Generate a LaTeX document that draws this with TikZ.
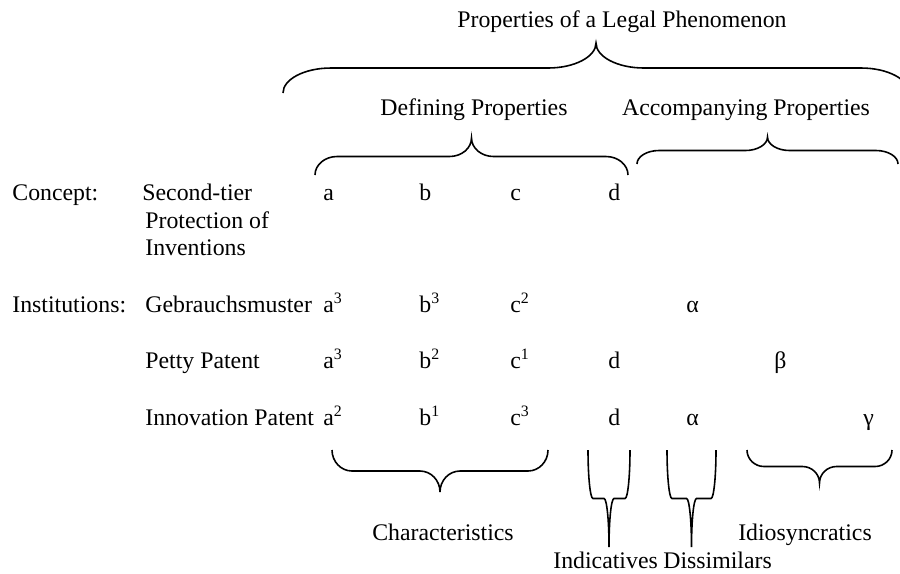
\documentclass[tikz,border=0pt]{standalone}
\usepackage{fontspec}
\setmainfont{Liberation Serif}
\usepackage{tikz}

\tikzset{
	lbl/.style={inner sep=0pt, anchor=base west, font=\fontsize{12}{13.9}\selectfont},
	brc/.style={line width=0.8pt},
}

%% brace: left x, right x, y of the ends, y of the tip, width of the bends
\newcommand{\legalbrace}[5]{%
	\pgfmathsetmacro{\bxm}{(#1+#2)/2}
	\pgfmathsetmacro{\bym}{(#3+#4)/2}
	\draw[brc] (#1,#3) .. controls (#1,{#3+0.552*(\bym-#3)}) and ({#1+0.448*#5},\bym) .. ({#1+#5},\bym)
		-- ({\bxm-#5},\bym) .. controls ({\bxm-0.448*#5},\bym) and (\bxm,{#4+0.552*(\bym-#4)}) .. (\bxm,#4)
		.. controls (\bxm,{#4+0.552*(\bym-#4)}) and ({\bxm+0.448*#5},\bym) .. ({\bxm+#5},\bym)
		-- ({#2-#5},\bym) .. controls ({#2-0.448*#5},\bym) and (#2,{#3+0.552*(\bym-#3)}) .. (#2,#3);%
}

\begin{document}
\begin{tikzpicture}[x=0.5042pt,y=-0.5042pt]

	\useasboundingbox (0,0) rectangle (900,573);

	%%Headings
	\node[lbl,anchor=base] (phenomenon) at (622,27) {Properties of a Legal Phenomenon};
	\node[lbl,anchor=base] (defining) at (474,115) {Defining Properties};
	\node[lbl,anchor=base] (accompanying) at (746,115) {Accompanying Properties};

	%%Rows
	\node[lbl] (concept) at (12,200) {Concept:};
	\node[lbl] (secondtier) at (142,200) {Second-tier};
	\node[lbl] (protection) at (145,228) {Protection of};
	\node[lbl] (inventions) at (145,255) {Inventions};
	\node[lbl] (institutions) at (12,312) {Institutions:};
	\node[lbl] (gebrauch) at (145,312) {Gebrauchsmuster};
	\node[lbl] (petty) at (145,368) {Petty Patent};
	\node[lbl] (innovation) at (145,425) {Innovation Patent};

	%%Concept
	\node[lbl] (ca) at (323,200) {a};
	\node[lbl] (cb) at (419,200) {b};
	\node[lbl] (cc) at (510,200) {c};
	\node[lbl] (cd) at (608,200) {d};

	%%Gebrauchsmuster
	\node[lbl] (ga) at (323,312) {a\textsuperscript{3}};
	\node[lbl] (gb) at (419,312) {b\textsuperscript{3}};
	\node[lbl] (gc) at (510,312) {c\textsuperscript{2}};
	\node[lbl] (galpha) at (686,312) {α};

	%%Petty Patent
	\node[lbl] (pa) at (323,368) {a\textsuperscript{3}};
	\node[lbl] (pb) at (419,368) {b\textsuperscript{2}};
	\node[lbl] (pc) at (510,368) {c\textsuperscript{1}};
	\node[lbl] (pd) at (608,368) {d};
	\node[lbl] (pbeta) at (774,368) {β};

	%%Innovation Patent
	\node[lbl] (ia) at (323,425) {a\textsuperscript{2}};
	\node[lbl] (ib) at (419,425) {b\textsuperscript{1}};
	\node[lbl] (ic) at (510,425) {c\textsuperscript{3}};
	\node[lbl] (id) at (608,425) {d};
	\node[lbl] (ialpha) at (686,425) {α};
	\node[lbl] (igamma) at (863,425) {γ};

	%%Groups below
	\node[lbl,anchor=base] (characteristics) at (443,540) {Characteristics};
	\node[lbl,anchor=base] (idiosyncratics) at (805,540) {Idiosyncratics};
	\node[lbl] (indicatives) at (553,568) {Indicatives};
	\node[lbl] (dissimilars) at (663,568) {Dissimilars};

	%%Braces
	\legalbrace{283}{909}{93}{43}{48}
	\legalbrace{315}{628}{175}{138}{22}
	\legalbrace{637}{898}{164}{137}{22}
	\legalbrace{332}{548}{450}{492}{20}
	\legalbrace{588}{630}{450}{547}{5}
	\legalbrace{667}{716}{450}{547}{5}
	\legalbrace{747}{892}{450}{483}{17}

\end{tikzpicture}
\end{document}
